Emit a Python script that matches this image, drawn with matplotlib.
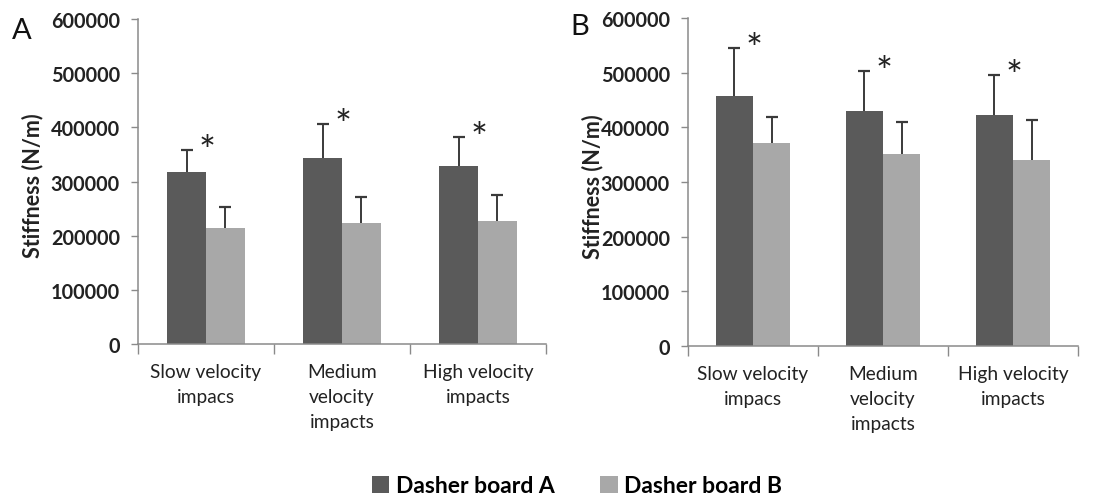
import numpy as np
import matplotlib
matplotlib.use('Agg')
import matplotlib.pyplot as plt
from matplotlib.patches import Patch

plt.rcParams['font.family'] = ['Lato', 'DejaVu Sans']

# Data
categories = ['Slow velocity\nimpacs', 'Medium\nvelocity\nimpacts', 'High velocity\nimpacts']
series = ['Dasher board A', 'Dasher board B']

# panel A
a_board_a = [317000, 343000, 329000]
a_board_a_err = [41000, 63000, 53000]
a_board_b = [214000, 223000, 227000]
a_board_b_err = [39000, 48000, 48000]

# panel B
b_board_a = [457000, 430000, 422000]
b_board_a_err = [88000, 73000, 74000]
b_board_b = [371000, 351000, 340000]
b_board_b_err = [48000, 59000, 73000]

yticks = [0, 100000, 200000, 300000, 400000, 500000, 600000]

dark = '#5a5a5a'
light = '#a8a8a8'
axis_col = '#8a8a8a'
err_col = '#3a3a3a'


def upper_err(ax, xpos, vals, errs):
    # error bar drawn upwards only, cap on top
    tops = np.array(vals) + np.array(errs)
    ax.vlines(xpos, vals, tops, colors=err_col, linewidth=1.4, zorder=3)
    ax.scatter(xpos, tops, marker='_', s=80, linewidths=1.6, color=err_col, zorder=3)


def draw_panel(ax, va, va_err, vb, vb_err, letter, letter_pos):
    x = np.arange(len(categories))
    w = 0.285
    ax.bar(x - w / 2, va, w, color=dark, zorder=2)
    ax.bar(x + w / 2, vb, w, color=light, zorder=2)
    upper_err(ax, x - w / 2, va, va_err)
    upper_err(ax, x + w / 2, vb, vb_err)
    # significance stars
    for i in range(len(x)):
        ax.annotate('*', xy=(x[i] + 0.01, va[i] + va_err[i]), xytext=(0, -2),
                    textcoords='offset points', ha='center', va='center',
                    fontsize=29, color='#222222')
    ax.set_xlim(-0.5, 2.5)
    ax.set_ylim(0, 600000)
    ax.set_yticks(yticks)
    ax.set_yticklabels([str(t) for t in yticks], fontsize=14.3, fontweight='bold', color='#222222')
    ax.set_xticks(x)
    ax.set_xticklabels(categories, fontsize=13.8, color='#222222', linespacing=1.55)
    ax.set_xticks(np.arange(-0.5, 3.0, 1.0), minor=True)
    ax.tick_params(axis='x', which='major', length=0, pad=14)
    ax.tick_params(axis='x', which='minor', length=7, color=axis_col, width=1)
    ax.tick_params(axis='y', length=5, color=axis_col, width=1, pad=8)
    for s in ['top', 'right']:
        ax.spines[s].set_visible(False)
    for s in ['left', 'bottom']:
        ax.spines[s].set_color(axis_col)
        ax.spines[s].set_linewidth(1.1)
    ax.set_ylabel('Stiffness (N/m)', fontsize=15.5, fontweight='bold', color='#222222')
    fig.text(letter_pos[0], letter_pos[1], letter, fontsize=21, color='#111111',
             ha='left', va='center')


fig = plt.figure(figsize=(11.14, 5.02), dpi=100)
ax1 = fig.add_axes([0.1239, 0.3127, 0.3662, 0.6474])
ax2 = fig.add_axes([0.6176, 0.3088, 0.3501, 0.6534])

draw_panel(ax1, a_board_a, a_board_a_err, a_board_b, a_board_b_err, 'A', (0.011, 0.938))
draw_panel(ax2, b_board_a, b_board_a_err, b_board_b, b_board_b_err, 'B', (0.512, 0.946))
ax1.yaxis.set_label_coords(-0.232, 0.49)
ax2.yaxis.set_label_coords(-0.218, 0.49)

handles = [Patch(facecolor=dark, edgecolor='none'), Patch(facecolor=light, edgecolor='none')]
fig.legend(handles, series, loc='center', bbox_to_anchor=(0.518, 0.03), ncol=2, frameon=False,
           prop={'size': 16.5, 'weight': 'bold'}, handlelength=0.75, handleheight=0.75,
           handletextpad=0.3, columnspacing=2.0)

fig.savefig('out.png', dpi=100)
